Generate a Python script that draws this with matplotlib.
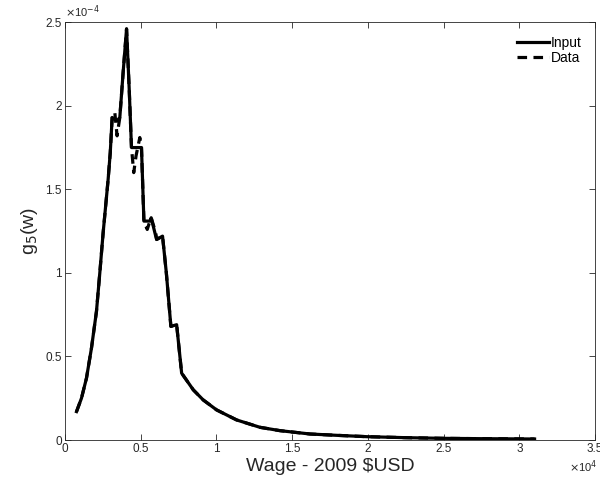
import matplotlib
matplotlib.use("Agg")
import matplotlib.pyplot as plt

plt.rcParams['font.family'] = ['Liberation Sans', 'DejaVu Sans']

# wage grid (2009 USD) and densities (x 1e-4)
wage = [773, 1100, 1430, 1760, 2090, 2310, 2530, 2860, 3000, 3125,
        3300, 3450, 3630, 3850, 4075, 4250, 4400, 4550, 4700, 4950, 5060,
        5220, 5440, 5615, 5700, 6000, 6060, 6450, 6700, 7000, 7380, 7710,
        8480, 9130, 10020, 11340, 12880, 14200, 16180, 17950, 19930,
        22500, 25000, 27500, 31000]
g_input = [0.17, 0.25, 0.37, 0.55, 0.77, 1.00, 1.24, 1.56, 1.72, 1.93,
           1.92, 1.91, 1.93, 2.20, 2.46, 2.10, 1.75, 1.75, 1.75, 1.75, 1.75,
           1.31, 1.31, 1.31, 1.33, 1.22, 1.20, 1.22, 1.00, 0.68, 0.69, 0.40,
           0.30, 0.24, 0.18, 0.12, 0.076, 0.056, 0.036, 0.028, 0.020,
           0.014, 0.010, 0.008, 0.006]
g_data = [0.17, 0.25, 0.37, 0.55, 0.77, 1.00, 1.24, 1.56, 1.72, 1.93,
          1.96, 1.82, 1.93, 2.20, 2.46, 2.10, 1.75, 1.60, 1.70, 1.81, 1.75,
          1.31, 1.26, 1.31, 1.33, 1.24, 1.20, 1.22, 1.00, 0.68, 0.69, 0.40,
          0.30, 0.24, 0.18, 0.12, 0.076, 0.056, 0.036, 0.028, 0.020,
          0.014, 0.010, 0.008, 0.006]

xticks = [0, 0.5, 1, 1.5, 2, 2.5, 3, 3.5]
yticks = [0, 0.5, 1, 1.5, 2, 2.5]

fig = plt.figure(figsize=(6, 4.83), dpi=100)
ax = fig.add_axes([0.108, 0.089, 0.884, 0.865])

ax.plot(wage, g_input, color='black', lw=2.3, label='Input')
ax.plot(wage, g_data, color='black', lw=2.3, ls=(0, (3, 2)), label='Data')

grey = '#262626'
ax.set_xlim(0, 35000)
ax.set_ylim(0, 2.5)
ax.set_xticks([t * 1e4 for t in xticks])
ax.set_xticklabels([('%g' % t) for t in xticks])
ax.set_yticks(yticks)
ax.set_yticklabels([('%g' % t) for t in yticks])
ax.tick_params(direction='in', length=4, width=0.6, top=True, right=True,
               labelsize=8.5, colors=grey, pad=2)
for s in ax.spines.values():
    s.set_linewidth(0.6)
    s.set_color(grey)

ax.text(0, 1.005, r'$\times$10$^{-4}$', transform=ax.transAxes, fontsize=8,
        color=grey, ha='left', va='bottom')
ax.text(1.004, -0.045, r'$\times$10$^{4}$', transform=ax.transAxes, fontsize=8,
        color=grey, ha='right', va='top')

ax.set_xlabel(r'Wage - 2009 \$USD', fontsize=14, color=grey, labelpad=2)
ax.set_ylabel(r'g$_5$(w)', fontsize=14, color=grey, labelpad=4)

leg = ax.legend(loc='upper right', frameon=False, fontsize=10,
                handlelength=2.3, handletextpad=0.1, labelspacing=0.05,
                borderaxespad=0.6)

fig.savefig('out.png', dpi=100)
